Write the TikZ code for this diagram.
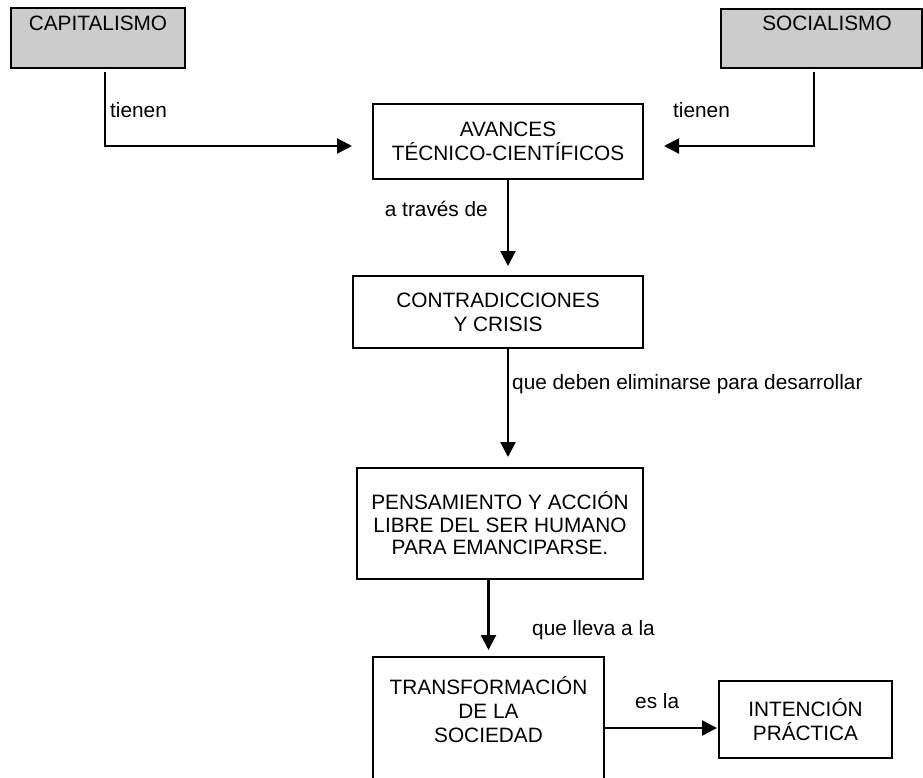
\documentclass[tikz,border=0pt]{standalone}
\usepackage{fontspec}
\setmainfont{Liberation Sans}
\usetikzlibrary{arrows.meta}
\definecolor{boxgray}{RGB}{204,204,204}
\begin{document}
\begin{tikzpicture}[x=1pt,y=-1pt,
  every node/.style={font=\fontsize{20.8}{24}\selectfont},
  box/.style={draw, line width=2pt, inner sep=0pt},
  graybox/.style={box, fill=boxgray},
  txt/.style={align=center, inner sep=0pt},
  lbl/.style={inner sep=0pt, anchor=base west},
  arr/.style={line width=2.2pt, -{Triangle[length=15pt,width=15pt]}}]
\useasboundingbox (0,0) rectangle (923,778);
% boxes
\node[graybox, minimum width=174pt, minimum height=60pt] (cap) at (98,38) {};
\node[txt] (captxt) at (98,23) {CAPITALISMO};
\node[graybox, minimum width=201pt, minimum height=59pt] (soc) at (821.5,38.5) {};
\node[txt] (soctxt) at (827,23) {SOCIALISMO};
\node[box, txt, minimum width=270pt, minimum height=75pt] (av) at (508,141.5) {AVANCES\\TÉCNICO-CIENTÍFICOS};
\node[box, txt, minimum width=290pt, minimum height=72pt] (con) at (498,312) {CONTRADICCIONES\\Y CRISIS};
\node[box, txt, minimum width=286pt, minimum height=111pt, font=\fontsize{20.8}{22.5}\selectfont] (pen) at (500,523.5) {PENSAMIENTO Y ACCIÓN\\LIBRE DEL SER HUMANO\\PARA EMANCIPARSE.};
\node[box, minimum width=231pt, minimum height=143pt] (tra) at (488.5,728.5) {};
\node[txt] (tratxt) at (488.5,710) {TRANSFORMACIÓN\\DE LA\\SOCIEDAD};
\node[box, txt, minimum width=173pt, minimum height=77pt] (int) at (805.5,719.5) {INTENCIÓN\\PRÁCTICA};
% connectors
\draw[arr, shorten >=20pt] ([xshift=7pt,yshift=-3pt]cap.south) |- (av.west |- 0,146);
\draw[arr, shorten >=20pt] ([xshift=-7.5pt,yshift=-3pt]soc.south) |- (av.east |- 0,146);
\draw[arr, shorten >=9pt] (av.south) -- (av.south |- con.north);
\draw[arr, shorten >=10pt] (con.south -| av.south) -- (pen.north -| av.south);
\draw[arr, shorten >=6pt] (pen.south -| tra.north) -- (tra.north);
\draw[arr, shorten >=1pt] (tra.east |- 0,728) -- (int.west |- 0,728);
% labels
\node[lbl] (l1) at (110,118) {tienen};
\node[lbl] (l2) at (673,118) {tienen};
\node[lbl, anchor=base east] (l3) at (488,216) {a través de};
\node[lbl] (l4) at (512,389) {que deben eliminarse para desarrollar};
\node[lbl] (l5) at (532,635) {que lleva a la};
\node[lbl] (l6) at (635,708) {es la};
\end{tikzpicture}
\end{document}
